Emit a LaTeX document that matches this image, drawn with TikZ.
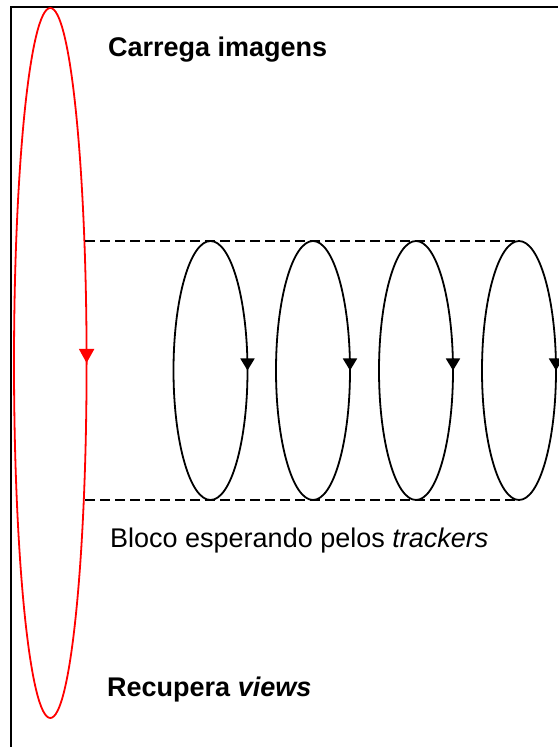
\documentclass[tikz,border=0pt]{standalone}
\usepackage{fontspec}
\setmainfont{Liberation Sans}
\usetikzlibrary{arrows.meta,calc,positioning}

\begin{document}
\begin{tikzpicture}[
    x=1pt, y=1pt,
    font=\fontsize{27}{31}\selectfont,
    loop/.style={draw=black, line width=1.8pt},
    mainloop/.style={draw=red, line width=1.8pt},
    tip/.style={-{Triangle[length=12pt,width=14pt]}},
    bigtip/.style={-{Triangle[length=14pt,width=15pt]}},
    wait/.style={draw=black, line width=1.4pt, dash pattern=on 10pt off 5pt},
    label/.style={anchor=base west, inner sep=0pt}
]
\useasboundingbox (0,0) rectangle (558,747);

% frame
\draw[line width=2pt] (11,0) -- (11,740) -- (558,740);

% outer loop
\coordinate (main) at (50.3,384);
\draw[mainloop] (main) ellipse[x radius=36.3, y radius=355];
\draw[mainloop, bigtip] ($(main)+(36.3,14)$) -- ($(main)+(36.3,0)$);

% inner loops
\coordinate (loopa) at (210.5,376.5);
\coordinate (loopb) at (313,376.5);
\coordinate (loopc) at (416,376.5);
\coordinate (loopd) at (519,376.5);
\draw[loop] (loopa) ellipse[x radius=37, y radius=129.5];
\draw[loop] (loopb) ellipse[x radius=37, y radius=129.5];
\draw[loop] (loopc) ellipse[x radius=37, y radius=129.5];
\draw[loop] (loopd) ellipse[x radius=37, y radius=129.5];
\draw[loop, tip] ($(loopa)+(37,12)$) -- ($(loopa)+(37,0)$);
\draw[loop, tip] ($(loopb)+(37,12)$) -- ($(loopb)+(37,0)$);
\draw[loop, tip] ($(loopc)+(37,12)$) -- ($(loopc)+(37,0)$);
\draw[loop, tip] ($(loopd)+(37,12)$) -- ($(loopd)+(37,0)$);

% block limits
\draw[wait] ($(main)+(35,122)$) -- ($(loopd)+(0,129.5)$);
\draw[wait] ($(main)+(35,-137)$) -- ($(loopd)+(0,-129.5)$);

% texts
\node[label] (load) at (108,690) {\textbf{Carrega imagens}};
\node[label] (block) at (110,199) {Bloco esperando pelos \textit{trackers}};
\node[label] (views) at (107,50) {\textbf{Recupera \textit{views}}};

\end{tikzpicture}
\end{document}
